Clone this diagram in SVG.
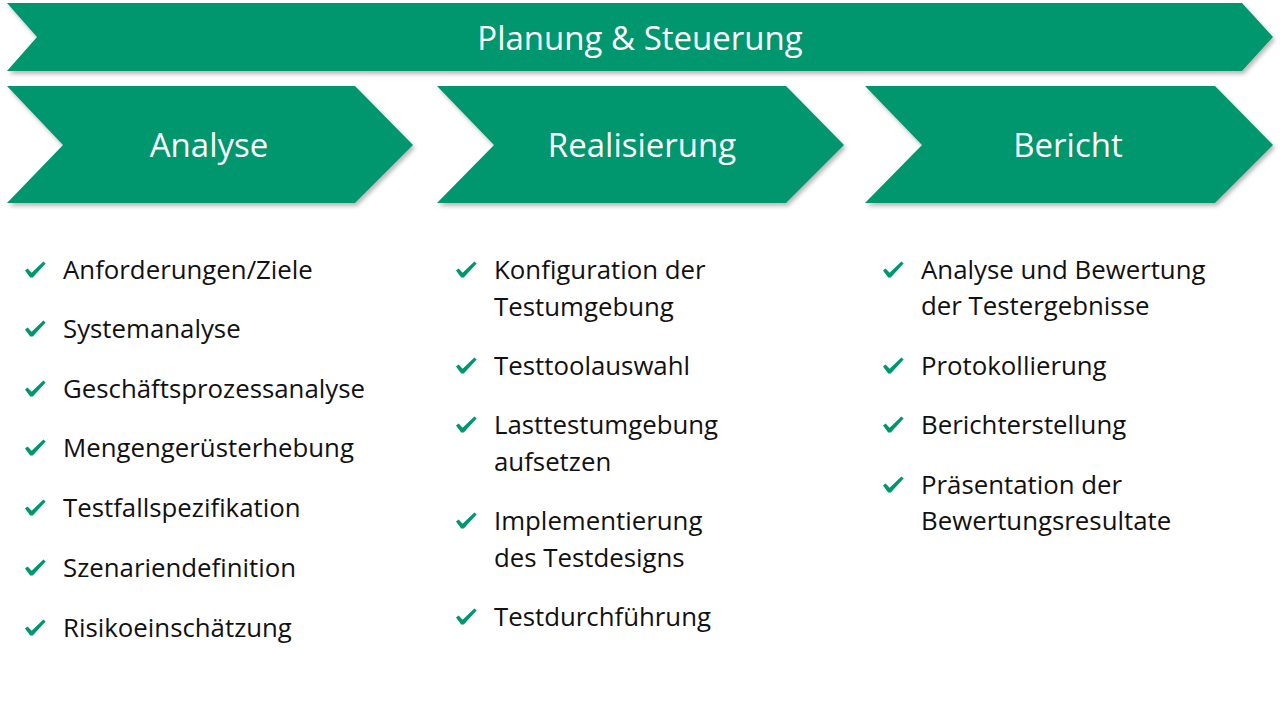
<svg xmlns="http://www.w3.org/2000/svg" width="1280" height="709" viewBox="0 0 1280 709">
<defs>
<filter id="sh" x="-5%" y="-20%" width="110%" height="150%">
<feDropShadow dx="2" dy="3" stdDeviation="2" flood-color="#000" flood-opacity="0.28"/>
</filter>
<path id="chk" d="M0,8.6 L2.6,6.4 L6.6,10.8 L18.4,-0.4 L20.6,1.6 L7.8,15.4 L5.2,15.4 Z" fill="#00966E"/>
</defs>
<style>
.arr{fill:#00966E;filter:url(#sh)}
.h{font-family:"Open Sans","Liberation Sans",sans-serif;font-size:33px;fill:#fff;text-anchor:middle}
.t{font-family:"Open Sans","Liberation Sans",sans-serif;font-size:25.8px;fill:#111}
</style>
<rect width="1280" height="709" fill="#fff"/>
<g id="planung">
<path class="arr" d="M7,3 L1242,3 L1273,37 L1242,71 L7,71 L37,37 Z"/>
<text class="h" x="640" y="50">Planung &amp; Steuerung</text>
</g>
<g id="analyse">
<path class="arr" d="M7,86 L355,86 L413,145 L355,203 L7,203 L63,145 Z"/>
<text class="h" x="209" y="157">Analyse</text>
</g>
<g id="realisierung">
<path class="arr" d="M437,86 L786,86 L844,145 L786,203 L437,203 L494,145 Z"/>
<text class="h" x="642" y="157">Realisierung</text>
</g>
<g id="bericht">
<path class="arr" d="M865,86 L1215,86 L1273,145 L1215,203 L865,203 L922,145 Z"/>
<text class="h" x="1068" y="157">Bericht</text>
</g>
<g id="list-analyse">
<use href="#chk" x="25" y="262"/><text class="t" x="63" y="279">Anforderungen/Ziele</text>
<use href="#chk" x="25" y="321"/><text class="t" x="63" y="338">Systemanalyse</text>
<use href="#chk" x="25" y="381"/><text class="t" x="63" y="398">Geschäftsprozessanalyse</text>
<use href="#chk" x="25" y="440"/><text class="t" x="63" y="457">Mengengerüsterhebung</text>
<use href="#chk" x="25" y="500"/><text class="t" x="63" y="517">Testfallspezifikation</text>
<use href="#chk" x="25" y="560"/><text class="t" x="63" y="577">Szenariendefinition</text>
<use href="#chk" x="25" y="620"/><text class="t" x="63" y="637">Risikoeinschätzung</text>
</g>
<g id="list-realisierung">
<use href="#chk" x="456" y="262"/><text class="t" x="494" y="279">Konfiguration der</text>
<text class="t" x="494" y="316">Testumgebung</text>
<use href="#chk" x="456" y="358"/><text class="t" x="494" y="375">Testtoolauswahl</text>
<use href="#chk" x="456" y="417"/><text class="t" x="494" y="434">Lasttestumgebung</text>
<text class="t" x="494" y="471">aufsetzen</text>
<use href="#chk" x="456" y="513"/><text class="t" x="494" y="530">Implementierung</text>
<text class="t" x="494" y="567">des Testdesigns</text>
<use href="#chk" x="456" y="609"/><text class="t" x="494" y="626">Testdurchführung</text>
</g>
<g id="list-bericht">
<use href="#chk" x="883" y="262"/><text class="t" x="921" y="279">Analyse und Bewertung</text>
<text class="t" x="921" y="315">der Testergebnisse</text>
<use href="#chk" x="883" y="358"/><text class="t" x="921" y="375">Protokollierung</text>
<use href="#chk" x="883" y="417"/><text class="t" x="921" y="434">Berichterstellung</text>
<use href="#chk" x="883" y="477"/><text class="t" x="921" y="494">Präsentation der</text>
<text class="t" x="921" y="530">Bewertungsresultate</text>
</g>
</svg>
